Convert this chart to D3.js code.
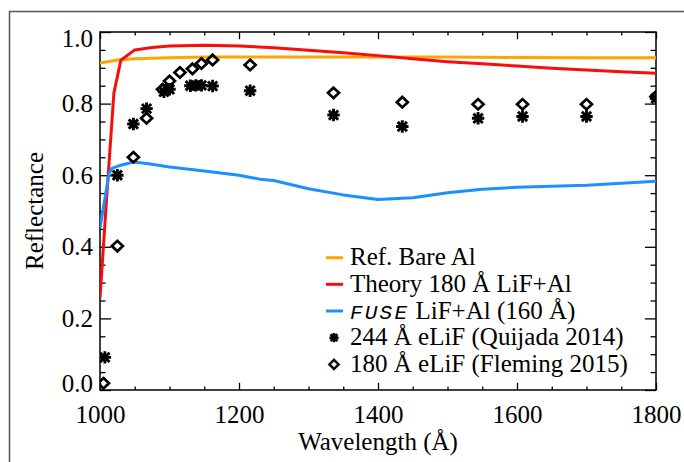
<!DOCTYPE html>
<html>
<head>
<meta charset="utf-8">
<script src="https://cdn.jsdelivr.net/npm/d3@7"></script>
<style>
  html, body { margin: 0; padding: 0; background: #fff; }
  svg { display: block; }
  svg text { font-family: "Liberation Serif", Tinos, "Times New Roman", Times, "DejaVu Serif", serif; fill: #000; }
  svg text tspan.mono { font-family: "Liberation Mono", Cousine, "Courier New", "DejaVu Sans Mono", monospace; }
</style>
</head>
<body>
<svg id="chart" width="684" height="462"></svg>
<script>
// ---- data ----
const refWl   = [1000, 1025, 1050, 1100, 1150, 1200, 1300, 1400, 1500, 1600, 1700, 1800];
const refR    = [0.913, 0.922, 0.925, 0.928, 0.930, 0.930, 0.930, 0.930, 0.930, 0.929, 0.928, 0.928];

const theoryWl = [1000, 1010, 1020, 1030, 1050, 1075, 1100, 1150, 1200, 1250, 1300, 1350, 1400, 1450, 1500, 1550, 1600, 1650, 1700, 1750, 1800];
const theoryR  = [0.257, 0.55, 0.83, 0.921, 0.950, 0.957, 0.961, 0.963, 0.961, 0.956, 0.949, 0.942, 0.934, 0.925, 0.917, 0.911, 0.905, 0.899, 0.894, 0.889, 0.885];

const fuseWl = [1000, 1013, 1017, 1030, 1048, 1070, 1100, 1150, 1200, 1230, 1250, 1300, 1350, 1400, 1450, 1500, 1550, 1600, 1700, 1800];
const fuseR  = [0.452, 0.605, 0.619, 0.628, 0.637, 0.632, 0.623, 0.612, 0.600, 0.589, 0.585, 0.562, 0.545, 0.532, 0.537, 0.551, 0.561, 0.566, 0.572, 0.583];

const quijadaWl = [1007, 1025, 1048, 1067, 1092, 1100, 1130, 1138, 1146, 1162, 1216, 1336, 1435, 1544, 1608, 1700, 1800];
const quijadaR  = [0.091, 0.600, 0.743, 0.786, 0.833, 0.840, 0.850, 0.851, 0.851, 0.849, 0.836, 0.768, 0.736, 0.759, 0.764, 0.764, 0.815];

const flemingWl = [1005, 1025, 1048, 1067, 1090, 1100, 1115, 1133, 1146, 1162, 1216, 1336, 1435, 1544, 1608, 1700, 1800];
const flemingR  = [0.019, 0.402, 0.650, 0.759, 0.840, 0.863, 0.887, 0.897, 0.912, 0.922, 0.908, 0.830, 0.804, 0.798, 0.798, 0.798, 0.820];

const xMajor = [1000, 1200, 1400, 1600, 1800];
const yMajor = [0.0, 0.2, 0.4, 0.6, 0.8, 1.0];

const legendLabels = ["Ref. Bare Al", "Theory 180 Å LiF+Al", "FUSE", "244 Å eLiF (Quijada 2014)", "180 Å eLiF (Fleming 2015)"];

// ---- layout ----
const L = 100, R = 656, T = 32, B = 390;
const SERIF = '"Liberation Serif", Tinos, "Times New Roman", Times, "DejaVu Serif", serif';
const svg = d3.select("#chart");
const x = d3.scaleLinear().domain([1000, 1800]).range([L, R]);
const y = d3.scaleLinear().domain([0, 1]).range([B, T]);

const cOrange = "#FFA500", cRed = "#F80C0C", cBlue = "#1E8FFF";

// outer figure frame
svg.append("rect").attr("x", 9.5).attr("y", 11.5).attr("width", 720).attr("height", 520)
  .attr("fill", "none").attr("stroke", "#555").attr("stroke-width", 1.5);

// clip
svg.append("clipPath").attr("id", "plotclip").append("rect")
  .attr("x", L).attr("y", T - 2).attr("width", R - L).attr("height", B - T + 4);

const xMinor = d3.range(1000, 1801, 50).filter(v => !xMajor.includes(v));
const yMinor = d3.range(0, 21).map(i => +(i * 0.05).toFixed(2)).filter(v => !yMajor.some(m => Math.abs(m - v) < 1e-6));

function styleAxis(g) {
  g.attr("font-family", null).attr("font-size", null);
  g.select(".domain").remove();
  g.selectAll("line").attr("stroke", "#000").attr("stroke-width", 1.3);
  g.selectAll("text").attr("font-size", 25).style("font-family", SERIF);
}

// bottom axis
svg.append("g").attr("transform", `translate(0,${B})`)
  .call(d3.axisBottom(x).tickValues(xMajor).tickFormat(d3.format("d")).tickSize(-7.2).tickPadding(15))
  .call(styleAxis);
svg.append("g").attr("transform", `translate(0,${B})`)
  .call(d3.axisBottom(x).tickValues(xMinor).tickFormat("").tickSize(-3.6))
  .call(styleAxis);
// top axis
svg.append("g").attr("transform", `translate(0,${T})`)
  .call(d3.axisTop(x).tickValues(xMajor).tickFormat("").tickSize(-7.2))
  .call(styleAxis);
svg.append("g").attr("transform", `translate(0,${T})`)
  .call(d3.axisTop(x).tickValues(xMinor).tickFormat("").tickSize(-3.6))
  .call(styleAxis);
// left axis
const gl = svg.append("g").attr("transform", `translate(${L},0)`)
  .call(d3.axisLeft(y).tickValues(yMajor).tickFormat(d3.format(".1f")).tickSize(-11.1).tickPadding(7))
  .call(styleAxis);
gl.selectAll(".tick text").attr("transform", d => d === 0 ? "translate(0,-7)" : (d === 1 ? "translate(0,6)" : null));
svg.append("g").attr("transform", `translate(${L},0)`)
  .call(d3.axisLeft(y).tickValues(yMinor).tickFormat("").tickSize(-5.5))
  .call(styleAxis);
// right axis
svg.append("g").attr("transform", `translate(${R},0)`)
  .call(d3.axisRight(y).tickValues(yMajor).tickFormat("").tickSize(-11.1))
  .call(styleAxis);
svg.append("g").attr("transform", `translate(${R},0)`)
  .call(d3.axisRight(y).tickValues(yMinor).tickFormat("").tickSize(-5.5))
  .call(styleAxis);

// plot frame
svg.append("rect").attr("x", L).attr("y", T).attr("width", R - L).attr("height", B - T)
  .attr("fill", "none").attr("stroke", "#000").attr("stroke-width", 1.5);

// axis titles
svg.append("text").attr("x", (L + R) / 2).attr("y", 450).attr("text-anchor", "middle")
  .attr("font-size", 25).style("font-family", SERIF).text("Wavelength (Å)");
svg.append("text").attr("transform", `translate(43,${(T + B) / 2}) rotate(-90)`)
  .attr("text-anchor", "middle").attr("font-size", 25).style("font-family", SERIF).text("Reflectance");

// lines
const plot = svg.append("g").attr("clip-path", "url(#plotclip)");
const line = d3.line().x(d => x(d[0])).y(d => y(d[1]));
function drawLine(wl, r, color) {
  plot.append("path").datum(wl.map((w, i) => [w, r[i]]))
    .attr("d", line).attr("fill", "none").attr("stroke", color)
    .attr("stroke-width", 3).attr("stroke-linejoin", "round");
}
drawLine(refWl, refR, cOrange);
drawLine(theoryWl, theoryR, cRed);
drawLine(fuseWl, fuseR, cBlue);

// symbols
function asteriskPath(s) {
  const d = s * 0.75;
  return `M${-s},0L${s},0M0,${-s}L0,${s}M${-d},${-d}L${d},${d}M${-d},${d}L${d},${-d}`;
}
function diamondPath(w, h) {
  return `M0,${-h}L${w},0L0,${h}L${-w},0Z`;
}
plot.selectAll(".ast").data(quijadaWl.map((w, i) => [w, quijadaR[i]])).enter()
  .append("path").attr("class", "ast")
  .attr("transform", d => `translate(${x(d[0])},${y(d[1])})`)
  .attr("d", asteriskPath(6.2)).attr("stroke", "#000").attr("stroke-width", 2.9).attr("fill", "none");
plot.selectAll(".dia").data(flemingWl.map((w, i) => [w, flemingR[i]])).enter()
  .append("path").attr("class", "dia")
  .attr("transform", d => `translate(${x(d[0])},${y(d[1])})`)
  .attr("d", diamondPath(5.5, 5.2)).attr("stroke", "#000").attr("stroke-width", 2.7).attr("fill", "none");

// legend
const legX = 326, legRows = [257.7, 284.3, 311, 337.7, 364.4];
const legColors = [cOrange, cRed, cBlue];
legColors.forEach((c, i) => {
  svg.append("line").attr("x1", legX).attr("x2", legX + 17).attr("y1", legRows[i]).attr("y2", legRows[i])
    .attr("stroke", c).attr("stroke-width", 3);
});
svg.append("path").attr("transform", `translate(${legX + 8},${legRows[3]})`)
  .attr("d", asteriskPath(4.6)).attr("stroke", "#000").attr("stroke-width", 2.6).attr("fill", "none");
svg.append("path").attr("transform", `translate(${legX + 8},${legRows[4]})`)
  .attr("d", diamondPath(4.6, 4.6)).attr("stroke", "#200620").attr("stroke-width", 2.5).attr("fill", "none");

legendLabels.forEach((t, i) => {
  const tx = svg.append("text").attr("x", 350).attr("y", legRows[i] + 7.5).attr("font-size", 25)
    .style("font-family", SERIF);
  if (i === 2) {
    tx.append("tspan").attr("class", "mono")
      .style("font-family", '"Liberation Mono", Cousine, "Courier New", "DejaVu Sans Mono", monospace')
      .attr("font-style", "italic").attr("font-size", 21).attr("letter-spacing", 2.2).text(t);
    tx.append("tspan").text(" LiF+Al (160 Å)");
  } else {
    tx.text(t);
  }
});
</script>
</body>
</html>
